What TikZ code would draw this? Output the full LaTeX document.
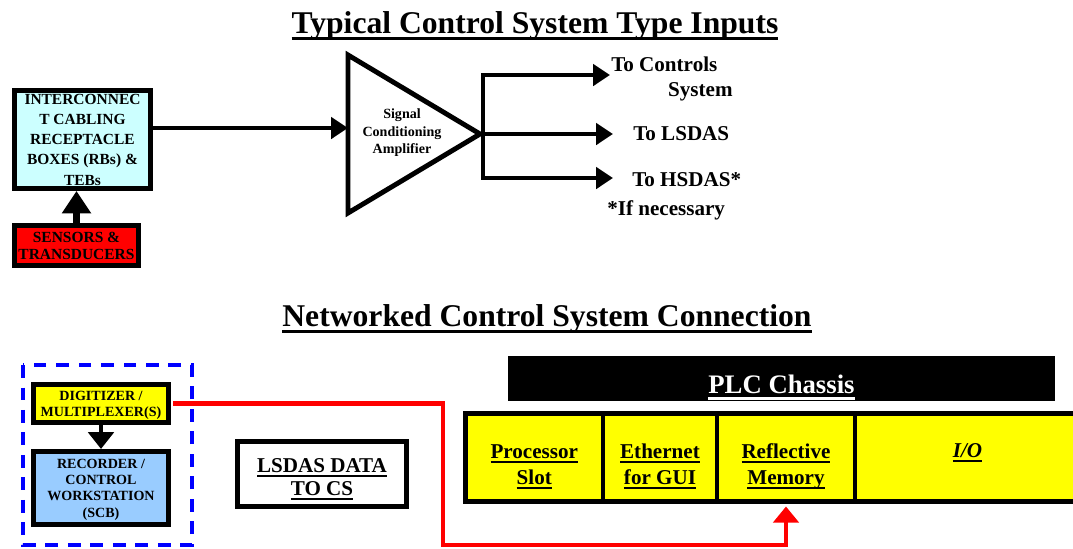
\documentclass[tikz,border=0pt]{standalone}
\usepackage{fontspec}
\setmainfont{Liberation Serif}
\usetikzlibrary{arrows.meta}
\definecolor{cablefill}{HTML}{CCFFFF}
\definecolor{recfill}{HTML}{99CCFF}
\definecolor{plcyellow}{HTML}{FFFF00}
\newcommand\thickul[1]{\setbox0=\hbox{#1}\rlap{\rule[-0.22em]{\wd0}{0.1em}}\box0}
\newcommand\lift[1]{\rule{0pt}{#1}}
\begin{document}
\begin{tikzpicture}[x=0.7113pt, y=-0.7113pt,
  box node/.style={draw, line width=3.5pt, align=center, inner sep=0pt},
  small text/.style={font=\fontsize{11}{14.4}\selectfont\bfseries},
  tiny text/.style={font=\fontsize{10}{11.6}\selectfont\bfseries},
  big text/.style={font=\fontsize{15}{18}\selectfont\bfseries},
  title text/.style={font=\fontsize{22.5}{27}\selectfont\bfseries},
  slot node/.style={box node, big text, fill=plcyellow, minimum height=62.6pt},
  arr/.style={line width=3.5pt, -{Triangle[length=12pt,width=15pt]}},
  red arr/.style={red, line width=3pt, -{Triangle[length=11.5pt,width=18pt]}}]
\clip (0,0) rectangle (1073,548);
% top half
\node[title text] (title1) at (535,26) {\thickul{Typical Control System Type Inputs}};
\node[box node, small text, fill=cablefill, minimum width=96.7pt, minimum height=69.7pt] (cabling) at (82.5,139.5) {INTERCONNEC\\T CABLING\\RECEPTACLE\\BOXES (RBs) \&\\TEBs};
\node[box node, small text, fill=red, minimum width=88.2pt, minimum height=28.5pt, font=\fontsize{11}{12}\selectfont\bfseries] (sensors) at (76.5,245.5) {SENSORS \&\\TRANSDUCERS};
\draw[line width=4.5pt, -{Triangle[length=16pt,width=20pt]}] (sensors.north) -- (sensors.north |- cabling.south);
\coordinate (ampin) at (348,128);
\coordinate (ampout) at (480,134);
\draw[line width=3.5pt] (348,55) -- (ampout) -- (348,213) -- cycle;
\node[tiny text, align=center, font=\fontsize{10}{12.4}\selectfont\bfseries] (amp) at (402,133) {Signal\\Conditioning\\Amplifier};
\draw[arr] (cabling.east |- ampin) -- (ampin);
\coordinate (bustop) at (483,75);
\coordinate (busbot) at (483,178);
\coordinate (tocs) at (610,75);
\coordinate (tols) at (613,134);
\coordinate (tohs) at (613,178);
\draw[line width=3.5pt, {Triangle[length=12pt,width=15pt]}-{Triangle[length=12pt,width=15pt]}] (tocs) -- (bustop) -- (busbot) -- (tohs);
\draw[arr] (ampout) -- (tols);
\node[big text, align=left, anchor=west, inner sep=0pt] (ctrl) at (611,79) {To Controls\\\hspace*{2.7em}System};
\node[big text, anchor=west, inner sep=0pt] (lsdas) at (633,134) {To LSDAS};
\node[big text, anchor=west, inner sep=0pt] (hsdas) at (632,180) {To HSDAS*};
\node[big text, anchor=west, inner sep=0pt] (note) at (607,210) {*If necessary};
% bottom half
\node[title text] (title2) at (547,319) {\thickul{Networked Control System Connection}};
\draw[blue, line width=3.5pt, dash pattern=on 9pt off 7pt] (23,365) rectangle (192,545);
\node[box node, tiny text, fill=plcyellow, minimum width=96pt, minimum height=27pt] (digitizer) at (101,403.5) {\lift{9pt}DIGITIZER /\\MULTIPLEXER(S)};
\node[box node, tiny text, fill=recfill, minimum width=96pt, minimum height=52pt] (recorder) at (101,488) {\lift{9pt}RECORDER /\\CONTROL\\WORKSTATION\\(SCB)};
\draw[arr, -{Triangle[length=12pt,width=18pt]}] (digitizer.south) -- (recorder.north);
\node[box node, big text, minimum width=120pt, minimum height=46.2pt, font=\fontsize{15}{16.5}\selectfont\bfseries] (lsdasdata) at (322,474) {\lift{17pt}\thickul{LSDAS DATA}\\\thickul{TO CS}};
\node[fill=black, text=white, minimum width=389pt, minimum height=32.7pt, inner sep=0pt, font=\fontsize{19}{22}\selectfont\bfseries] (chassis) at (781.5,378.5) {\lift{26pt}\thickul{PLC Chassis}};
\node[slot node, minimum width=97.8pt] (processor) at (534.25,457.5) {\lift{23pt}\thickul{Processor}\\\thickul{Slot}};
\node[slot node, minimum width=81.1pt] (ethernet) at (660,457.5) {\lift{23pt}\thickul{Ethernet}\\\thickul{for GUI}};
\node[slot node, minimum width=98.2pt] (reflective) at (786,457.5) {\lift{23pt}\thickul{Reflective}\\\thickul{Memory}};
\node[slot node, minimum width=160pt] (io) at (967.5,457.5) {\lift{23pt}\thickul{\textit{I/O}}\\\strut};
\coordinate (redbend) at (443,545);
\draw[red arr, shorten <=1.8pt, shorten >=1.8pt] (digitizer.east) -- (digitizer.east -| redbend) -- (redbend) -- (redbend -| reflective.south) -- (reflective.south);
\end{tikzpicture}
\end{document}
